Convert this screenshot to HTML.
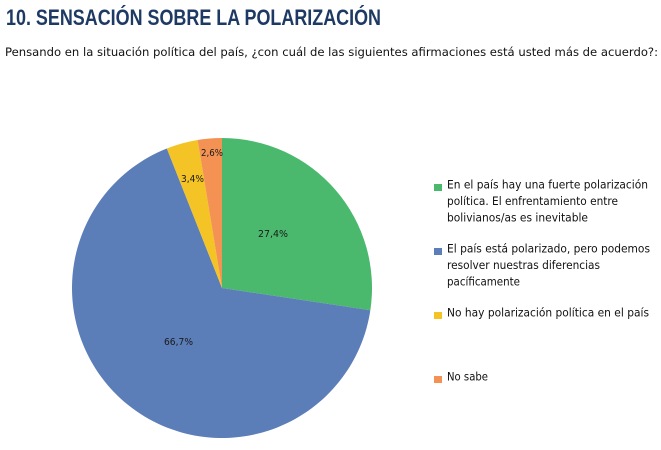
<!DOCTYPE html>
<html><head><meta charset="utf-8"><style>
html,body{margin:0;padding:0;background:#fff;}
svg{display:block;}
</style></head><body>
<svg width="661" height="450" viewBox="0 0 661 450" xmlns="http://www.w3.org/2000/svg">
<rect width="661" height="450" fill="#fff"/>
<text x="6" y="25" font-family="Liberation Sans, sans-serif" font-size="22" font-weight="bold" fill="#1e3a64" textLength="375" lengthAdjust="spacingAndGlyphs">10. SENSACIÓN SOBRE LA POLARIZACIÓN</text>
<text x="5" y="56" font-family="DejaVu Sans, sans-serif" font-size="11.5" fill="#111" textLength="653" lengthAdjust="spacingAndGlyphs">Pensando en la situación política del país, ¿con cuál de las siguientes afirmaciones está usted más de acuerdo?:</text>

<path d="M222,288 L222,138 A150,150 0 0 1 370.34,310.28 Z" fill="#4ab96d"/>
<path d="M222,288 L370.34,310.28 A150,150 0 1 1 166.83,148.51 Z" fill="#5b7db8"/>
<path d="M222,288 L166.83,148.51 A150,150 0 0 1 197.63,139.99 Z" fill="#f4c325"/>
<path d="M222,288 L197.63,139.99 A150,150 0 0 1 222,138 Z" fill="#f39253"/>

<g font-family="DejaVu Sans, sans-serif" font-size="9.5" fill="#1a1a1a">
<text x="258" y="237" textLength="30" lengthAdjust="spacingAndGlyphs">27,4%</text>
<text x="164" y="345" textLength="29" lengthAdjust="spacingAndGlyphs">66,7%</text>
<text x="181" y="182" textLength="23" lengthAdjust="spacingAndGlyphs">3,4%</text>
<text x="201" y="156" textLength="22" lengthAdjust="spacingAndGlyphs">2,6%</text>
</g>

<rect x="434" y="184" width="8" height="7" fill="#4ab96d"/>
<rect x="434" y="248" width="8" height="7" fill="#5b7db8"/>
<rect x="434" y="312" width="8" height="7" fill="#f4c325"/>
<rect x="434" y="376" width="8" height="7" fill="#f39253"/>

<g font-family="DejaVu Sans, sans-serif" font-size="11.5" fill="#111">
<text x="447" y="188.5" textLength="201" lengthAdjust="spacingAndGlyphs">En el país hay una fuerte polarización</text>
<text x="447" y="205" textLength="171" lengthAdjust="spacingAndGlyphs">política. El enfrentamiento entre</text>
<text x="447" y="221.5" textLength="141" lengthAdjust="spacingAndGlyphs">bolivianos/as es inevitable</text>
<text x="447" y="252.5" textLength="203" lengthAdjust="spacingAndGlyphs">El país está polarizado, pero podemos</text>
<text x="447" y="269" textLength="153" lengthAdjust="spacingAndGlyphs">resolver nuestras diferencias</text>
<text x="447" y="285.5" textLength="73" lengthAdjust="spacingAndGlyphs">pacíficamente</text>
<text x="447" y="316.5" textLength="202" lengthAdjust="spacingAndGlyphs">No hay polarización política en el país</text>
<text x="447" y="380.5" textLength="41" lengthAdjust="spacingAndGlyphs">No sabe</text>
</g>
</svg>
</body></html>
